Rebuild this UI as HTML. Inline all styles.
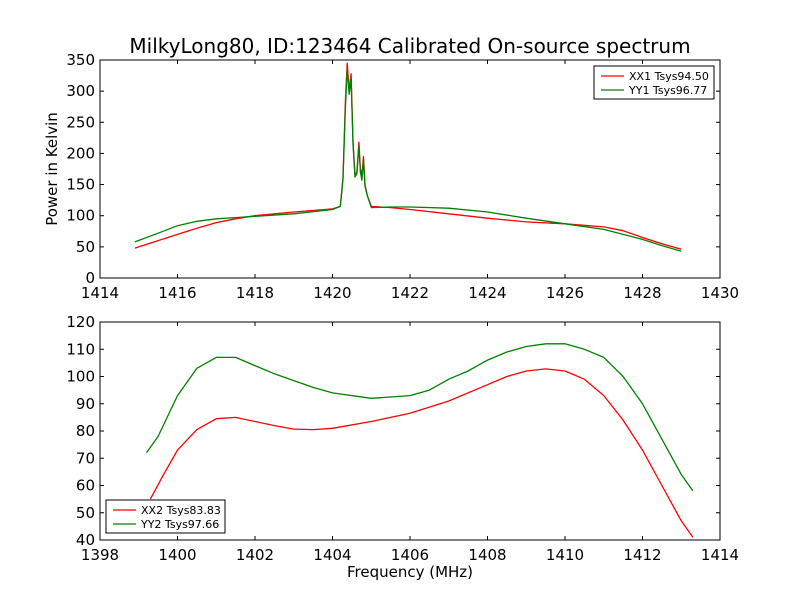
<!DOCTYPE html>
<html><head><meta charset="utf-8"><style>
body{margin:0;background:#fff}
svg text{font-family:"DejaVu Sans","Liberation Sans",sans-serif}
</style></head><body>
<svg id="c" width="800" height="600" xmlns="http://www.w3.org/2000/svg">
<rect width="800" height="600" fill="#fff"/>
<text x="410" y="53" font-size="20" text-anchor="middle">MilkyLong80, ID:123464 Calibrated On-source spectrum</text>
<text transform="translate(57,169) rotate(-90)" font-size="15" text-anchor="middle">Power in Kelvin</text>
<text x="410" y="577" font-size="15" text-anchor="middle">Frequency (MHz)</text>
</svg>
<script>
const xx1F=[1414.9,1415.5,1416,1416.5,1417,1417.5,1418,1419,1420,1420.2,1420.27,1420.33,1420.38,1420.43,1420.48,1420.53,1420.58,1420.63,1420.68,1420.72,1420.76,1420.8,1420.84,1420.9,1421,1421.5,1422,1423,1424,1425,1426,1427,1427.5,1428,1428.5,1429];
const xx1V=[48,60,70,80,89,95,100,106,111,115,160,280,345,300,328,220,165,170,218,175,165,195,150,132,115,113,110,103,96,90,87,82,76,65,55,46];
const yy1F=[1414.9,1415.5,1416,1416.5,1417,1417.5,1418,1419,1420,1420.2,1420.27,1420.33,1420.38,1420.43,1420.48,1420.53,1420.58,1420.63,1420.68,1420.72,1420.76,1420.8,1420.84,1420.9,1421,1421.5,1422,1423,1424,1425,1426,1427,1427.5,1428,1428.5,1429];
const yy1V=[58,72,84,91,95,97,99,103,110,115,160,270,335,295,320,215,162,168,212,170,157,190,147,132,113,114,114,112,106,96,87,78,70,62,52,43];
const xx2F=[1399.3,1399.6,1400,1400.5,1401,1401.5,1402,1402.5,1403,1403.5,1404,1405,1406,1407,1408,1408.5,1409,1409.5,1410,1410.5,1411,1411.5,1412,1412.5,1413,1413.3];
const xx2V=[55,63,73,80.5,84.5,85,83.5,82,80.7,80.5,81,83.5,86.5,91,97,100,102,102.8,102,99,93,84,73,60,47,41];
const yy2F=[1399.2,1399.5,1400,1400.5,1401,1401.5,1402,1402.5,1403,1403.5,1404,1405,1406,1406.5,1407,1407.5,1408,1408.5,1409,1409.5,1410,1410.5,1411,1411.5,1412,1412.5,1413,1413.3];
const yy2V=[72,78,93,103,107,107,104,101,98.5,96,94,92,93,95,99,102,106,109,111,112,112,110,107,100,90,77,64,58];
const topXTicks=[1414,1416,1418,1420,1422,1424,1426,1428,1430];
const topYTicks=[0,50,100,150,200,250,300,350];
const botXTicks=[1398,1400,1402,1404,1406,1408,1410,1412,1414];
const botYTicks=[40,50,60,70,80,90,100,110,120];
const NS='http://www.w3.org/2000/svg',svg=document.getElementById('c');
function mk(t,a,p){const e=document.createElementNS(NS,t);for(const k in a)e.setAttribute(k,a[k]);(p||svg).appendChild(e);return e;}
function panel(name,L,T,W,H,x0,x1,y0,y1,xt,yt,series,leg){
 const g=mk('g',{});
 
 
 const sx=v=>L+(v-x0)/(x1-x0)*W, sy=v=>T+H-(v-y0)/(y1-y0)*H;
 series.forEach(s=>{
  const p=mk('polyline',{points:s.f.map((f,i)=>sx(f).toFixed(1)+','+sy(s.v[i]).toFixed(1)).join(' '),fill:'none',stroke:s.c,'stroke-width':1.3,'stroke-linejoin':'round'},g);
  
  
 });
 const fr=mk('rect',{x:L,y:T,width:W,height:H,fill:'none',stroke:'#000','stroke-width':1},g);
 
 
 xt.forEach(v=>{const x=sx(v);mk('line',{x1:x,x2:x,y1:T+H,y2:T+H-4,stroke:'#000'},g);mk('line',{x1:x,x2:x,y1:T,y2:T+4,stroke:'#000'},g);
  const t=mk('text',{x:x,y:T+H+20,'font-size':15,'text-anchor':'middle'},g);t.textContent=v;
  
  });
 yt.forEach(v=>{const y=sy(v);mk('line',{x1:L,x2:L+4,y1:y,y2:y,stroke:'#000'},g);mk('line',{x1:L+W,x2:L+W-4,y1:y,y2:y,stroke:'#000'},g);
  const t=mk('text',{x:L-5,y:y+5,'font-size':15,'text-anchor':'end'},g);t.textContent=v;
  
  });
 const lg=mk('g',{},g);
 
 
 mk('rect',{x:leg.x,y:leg.y,width:leg.w,height:33,fill:'#fff',stroke:'#000'},lg);
 series.forEach((s,i)=>{const y=leg.y+10+i*14;
  mk('line',{x1:leg.x+7,x2:leg.x+30,y1:y,y2:y,stroke:s.c,'stroke-width':1.3},lg);
  const t=mk('text',{x:leg.x+35,y:y+4,'font-size':11},lg);t.textContent=s.lab;
  
  });
}
panel('top-panel',100,60,620,218,1414,1430,0,350,topXTicks,topYTicks,
 [{f:xx1F,v:xx1V,c:'#f00',n:'xx1-line',lab:'XX1 Tsys94.50'},{f:yy1F,v:yy1V,c:'#008000',n:'yy1-line',lab:'YY1 Tsys96.77'}],{x:594,y:66,w:120});
panel('bottom-panel',100,322,620,218,1398,1414,40,120,botXTicks,botYTicks,
 [{f:xx2F,v:xx2V,c:'#f00',n:'xx2-line',lab:'XX2 Tsys83.83'},{f:yy2F,v:yy2V,c:'#008000',n:'yy2-line',lab:'YY2 Tsys97.66'}],{x:106,y:500,w:119});
</script>
</body></html>
